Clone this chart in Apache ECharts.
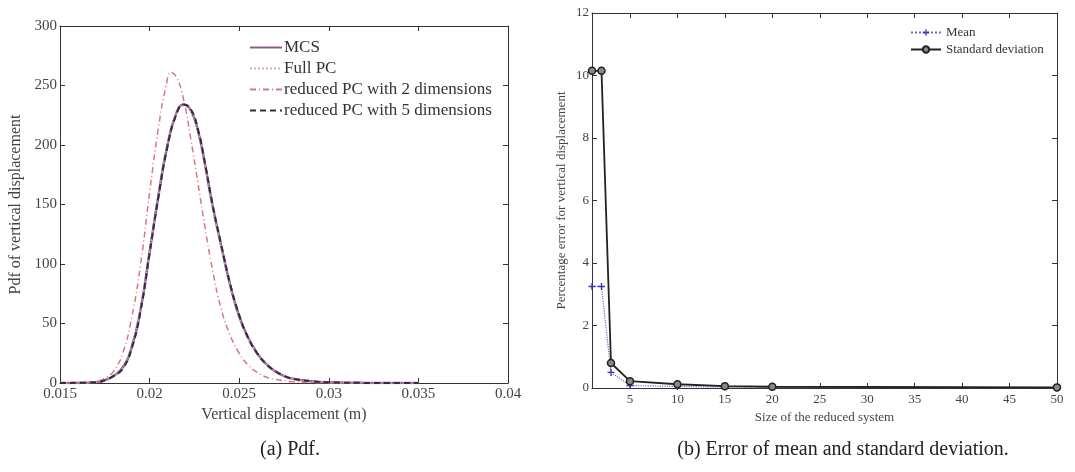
<!DOCTYPE html>
<html>
<head>
<meta charset="utf-8">
<script src="https://cdn.jsdelivr.net/npm/echarts@6/dist/echarts.min.js"></script>
<style>html,body{margin:0;padding:0;background:#fff;}#c{width:1075px;height:472px;}</style>
</head>
<body>
<div id="c"></div>
<script>
// ---- Left panel (a): pdf curves ----
const mcsX = [0.0150,0.0165,0.0172,0.0176,0.0180,0.0185,0.0190,0.0195,0.0200,0.0205,0.0210,0.0215,0.0219,0.0223,0.0227,0.0231,0.0235,0.0240,0.0245,0.0250,0.0255,0.0260,0.0265,0.0270,0.0275,0.0280,0.0290,0.0300,0.0320,0.0350];
const mcsY = [0,0.3,1,3,6,13,30,62,110,158,200,227,234,229,212,183,150,115,82,56,38,25,16,10,6,3.5,1.5,0.6,0.1,0];
const fullY = [0,0.3,1,3,6,13,31,63,111,159,201,227,233,228,211,182,149,114,81,55,37,25,16,10,6,3.5,1.5,0.6,0.1,0];
const red5Y = [0,0.3,1,3,6,12,29,61,109,157,199,226,234,230,213,184,151,116,83,57,38,25,16,10,6,3.5,1.5,0.6,0.1,0];
const red2X = [0.0150,0.0165,0.0172,0.0176,0.0180,0.0185,0.0190,0.0195,0.0200,0.0205,0.0209,0.0212,0.0215,0.0219,0.0223,0.0227,0.0231,0.0235,0.0240,0.0245,0.0250,0.0255,0.0260,0.0265,0.0270,0.0280,0.0290,0.0310];
const red2Y = [0,0.3,2,5,10,25,55,100,160,215,248,261,257,238,205,168,130,96,62,40,25,15,9,5,3,1,0.3,0];

// ---- Right panel (b): percentage errors ----
const sizeX = [1,2,3,5,10,15,20,50];
const meanErr = [3.25,3.25,0.5,0.08,0.05,0.03,0.02,0.01];
const stdErr = [10.15,10.15,0.8,0.22,0.12,0.06,0.04,0.02];

const leftXTicks = {min:0.015, max:0.04, interval:0.005};
const leftYTicks = {min:0, max:300, interval:50};
const rightXLabels = [5,10,15,20,25,30,35,40,45,50];
const rightYTicks = {min:0, max:12, interval:2};

const pairs = (xs, ys) => xs.map((x,i)=>[x, ys[i]]);
const serif = 'Liberation Serif';
const axisCol = '#333';
const txtCol = '#444';

const chart = echarts.init(document.getElementById('c'), null, {renderer:'canvas'});
const tickIn = {show:true, inside:true, length:5, lineStyle:{color:axisCol}};
const plusPath = 'path://M4,0H6V4H10V6H6V10H4V6H0V4H4Z';

chart.setOption({
  backgroundColor:'#fff',
  animation:false,
  title:[
    {text:'(a) Pdf.', left:285, top:435, textAlign:'center', textStyle:{fontFamily:serif, fontSize:20, fontWeight:'normal', color:'#222'}},
    {text:'(b) Error of mean and standard deviation.', left:838, top:435, textAlign:'center', textStyle:{fontFamily:serif, fontSize:20, fontWeight:'normal', color:'#222'}}
  ],
  grid:[
    {left:60, right:567, top:26, bottom:89},
    {left:592, right:18, top:13, bottom:84}
  ],
  legend:[
    {orient:'vertical', left:244, top:34, itemWidth:32, itemHeight:10, itemGap:4,
     itemStyle:{opacity:0},
     textStyle:{fontFamily:serif, fontSize:17, color:'#333', padding:[0,0,0,-3]},
     data:['MCS','Full PC','reduced PC with 2 dimensions','reduced PC with 5 dimensions']},
    {orient:'vertical', left:905, top:21, itemWidth:30, itemHeight:8, itemGap:4,
     textStyle:{fontFamily:serif, fontSize:13, color:'#333'},
     data:['Mean','Standard deviation']}
  ],
  xAxis:[
    {type:'value', gridIndex:0, min:leftXTicks.min, max:leftXTicks.max, interval:leftXTicks.interval,
     name:'Vertical displacement (m)', nameLocation:'middle', nameGap:21,
     nameTextStyle:{fontFamily:serif, fontSize:16, color:txtCol},
     axisLine:{onZero:false, lineStyle:{color:axisCol}}, axisTick:tickIn, splitLine:{show:false},
     axisLabel:{fontFamily:serif, fontSize:15, color:txtCol, margin:4}},
    {type:'value', gridIndex:0, position:'top', min:leftXTicks.min, max:leftXTicks.max, interval:leftXTicks.interval,
     axisLine:{onZero:false, lineStyle:{color:axisCol}}, axisTick:tickIn, axisLabel:{show:false}, splitLine:{show:false}},
    {type:'value', gridIndex:1, min:1, max:50,
     name:'Size of the reduced system', nameLocation:'middle', nameGap:20,
     nameTextStyle:{fontFamily:serif, fontSize:13, color:txtCol},
     axisLine:{onZero:false, lineStyle:{color:axisCol}},
     axisTick:{show:true, inside:true, length:5, lineStyle:{color:axisCol}, customValues:rightXLabels},
     splitLine:{show:false},
     axisLabel:{fontFamily:serif, fontSize:13, color:txtCol, margin:5, customValues:rightXLabels}},
    {type:'value', gridIndex:1, position:'top', min:1, max:50,
     axisLine:{onZero:false, lineStyle:{color:axisCol}},
     axisTick:{show:true, inside:true, length:5, lineStyle:{color:axisCol}, customValues:rightXLabels},
     axisLabel:{show:false}, splitLine:{show:false}}
  ],
  yAxis:[
    {type:'value', gridIndex:0, min:leftYTicks.min, max:leftYTicks.max, interval:leftYTicks.interval,
     name:'Pdf of vertical displacement', nameLocation:'middle', nameGap:36,
     nameTextStyle:{fontFamily:serif, fontSize:16, color:txtCol},
     axisLine:{show:true, onZero:false, lineStyle:{color:axisCol}}, axisTick:tickIn, splitLine:{show:false},
     axisLabel:{fontFamily:serif, fontSize:15, color:txtCol, margin:3}},
    {type:'value', gridIndex:0, position:'right', min:leftYTicks.min, max:leftYTicks.max, interval:leftYTicks.interval,
     axisLine:{show:true, onZero:false, lineStyle:{color:axisCol}}, axisTick:tickIn, axisLabel:{show:false}, splitLine:{show:false}},
    {type:'value', gridIndex:1, min:rightYTicks.min, max:rightYTicks.max, interval:rightYTicks.interval,
     name:'Percentage error for vertical displacement', nameLocation:'middle', nameGap:24,
     nameTextStyle:{fontFamily:serif, fontSize:13, color:txtCol},
     axisLine:{show:true, onZero:false, lineStyle:{color:axisCol}}, axisTick:tickIn, splitLine:{show:false},
     axisLabel:{fontFamily:serif, fontSize:13, color:txtCol, margin:3}},
    {type:'value', gridIndex:1, position:'right', min:rightYTicks.min, max:rightYTicks.max, interval:rightYTicks.interval,
     axisLine:{show:true, onZero:false, lineStyle:{color:axisCol}}, axisTick:tickIn, axisLabel:{show:false}, splitLine:{show:false}}
  ],
  series:[
    {name:'MCS', type:'line', xAxisIndex:0, yAxisIndex:0, data:pairs(mcsX, mcsY), smooth:0.5, showSymbol:false, symbol:'none',
     lineStyle:{color:'#8e5a8c', width:2.5, type:'solid'}, itemStyle:{color:'#8e5a8c'}},
    {name:'Full PC', type:'line', xAxisIndex:0, yAxisIndex:0, data:pairs(mcsX, fullY), smooth:0.5, showSymbol:false, symbol:'none',
     lineStyle:{color:'#e4aabb', width:1.5, type:'dotted'}, itemStyle:{color:'#e4aabb'}},
    {name:'reduced PC with 2 dimensions', type:'line', xAxisIndex:0, yAxisIndex:0, data:pairs(red2X, red2Y), smooth:0.5, showSymbol:false, symbol:'none',
     lineStyle:{color:'#d9787f', width:1.5, type:[6,3,1,3]}, itemStyle:{color:'#d9787f'}},
    {name:'reduced PC with 5 dimensions', type:'line', xAxisIndex:0, yAxisIndex:0, data:pairs(mcsX, red5Y), smooth:0.5, showSymbol:false, symbol:'none',
     lineStyle:{color:'#2e2e40', width:2, type:[6,4]}, itemStyle:{color:'#2e2e40'}},
    {name:'Mean', type:'line', xAxisIndex:2, yAxisIndex:2, data:pairs(sizeX, meanErr), symbol:plusPath, symbolSize:7,
     lineStyle:{color:'#6a6acc', width:1.2, type:'dotted'}, itemStyle:{color:'#3a3aa8'}},
    {name:'Standard deviation', type:'line', xAxisIndex:2, yAxisIndex:2, data:pairs(sizeX, stdErr), symbol:'circle', symbolSize:7,
     lineStyle:{color:'#222', width:1.8, type:'solid'}, itemStyle:{color:'#888', borderColor:'#222', borderWidth:1.5}}
  ]
});
</script>
</body>
</html>
